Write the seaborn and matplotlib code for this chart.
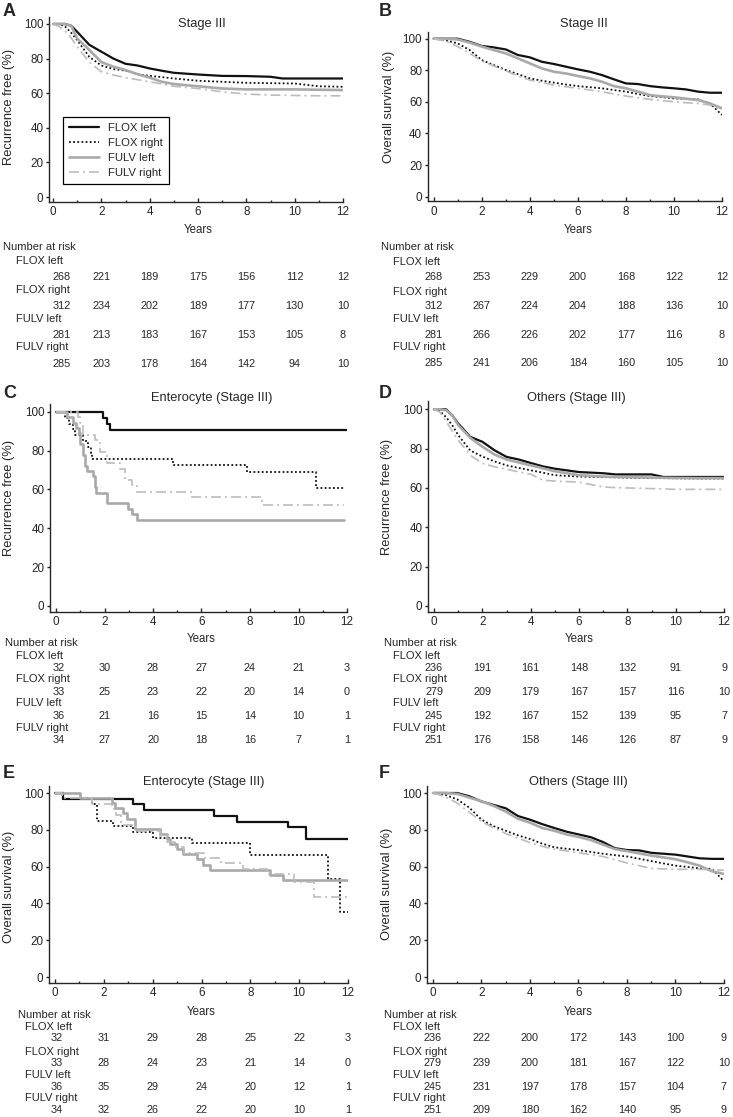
"""
plot.py

Kaplan-Meier curves (recurrence free / overall survival) for FLOX and FULV,
left vs right sided tumours, with number-at-risk tables under each panel.
"""
import pandas as pd
import matplotlib
matplotlib.use("Agg")
from matplotlib import pyplot as plt
from matplotlib import transforms
from matplotlib.lines import Line2D
import seaborn as sns

W, H = 733, 1117

# ---- data -----------------------------------------------------------------
GROUPS = ["FLOX left", "FLOX right", "FULV left", "FULV right"]
RISK_YEARS = [0, 2, 4, 6, 8, 10, 12]

# A: Stage III, recurrence free
A_T = [0, 0.25, 0.5, 0.75, 1, 1.5, 2, 2.5, 3, 3.5, 4, 4.5, 5, 6, 7, 8, 9, 9.5, 10, 11, 12]
A_FLOX_LEFT = [100, 100, 100, 99, 95.5, 88, 84, 80, 77, 76, 74.3, 73, 71.8, 70.8, 70, 69.9, 69.5, 68.5, 68.5, 68.5, 68.5]
A_FLOX_RIGHT = [100, 100, 98.5, 95, 90.7, 81, 76, 74, 73, 71, 70, 69.3, 68.5, 67.2, 66.6, 66, 65.8, 65.7, 65.6, 64, 63.7]
A_FULV_LEFT = [100, 100, 100, 99, 91.7, 85, 78, 75.3, 73.4, 71, 69, 66.6, 65.3, 64, 62.7, 62.2, 62.2, 62.2, 62.2, 62, 61.8]
A_FULV_RIGHT = [100, 98.5, 96, 92, 86.9, 78, 72.4, 70.5, 69, 67.8, 66.6, 65.3, 64, 62.7, 60.8, 59.5, 58.9, 58.8, 58.7, 58.5, 58.5]
A_RISK_FLOX_LEFT = [268, 221, 189, 175, 156, 112, 12]
A_RISK_FLOX_RIGHT = [312, 234, 202, 189, 177, 130, 10]
A_RISK_FULV_LEFT = [281, 213, 183, 167, 153, 105, 8]
A_RISK_FULV_RIGHT = [285, 203, 178, 164, 142, 94, 10]

# B: Stage III, overall survival
B_T = [0, 0.5, 1, 1.5, 2, 2.5, 3, 3.5, 4, 4.5, 5, 5.5, 6, 6.5, 7, 7.5, 8, 8.5, 9, 9.5, 10, 10.5, 11, 11.5, 12]
B_FLOX_LEFT = [100, 100, 100, 98, 95.4, 94.5, 93.2, 89.7, 88.2, 85.4, 84, 82.3, 80.6, 79.1, 77, 74.3, 71.7, 71.3, 70, 69.2, 68.6, 67.9, 66.5, 65.8, 65.8]
B_FLOX_RIGHT = [100, 99, 97, 92.8, 86.5, 83.3, 80.2, 77.6, 74.9, 73.4, 72.2, 71, 70, 69.3, 68.6, 67.5, 66.5, 65, 63.7, 63, 62.2, 61.9, 61.6, 59, 51.7]
B_FULV_LEFT = [100, 100, 99.5, 97.5, 95, 92.8, 90.7, 87.6, 84.4, 81.2, 79.1, 78, 76.4, 74.9, 72.8, 70, 68.6, 66.5, 64.3, 63.5, 62.9, 62, 61.2, 59, 55.9]
B_FULV_RIGHT = [100, 98.5, 95, 90.7, 85.9, 82.7, 79.7, 76.4, 73.8, 72.2, 70.7, 69.6, 68.6, 67.5, 66.5, 65, 63.7, 62.6, 61.6, 60.8, 60.1, 59.5, 59, 58, 55]
B_RISK_FLOX_LEFT = [268, 253, 229, 200, 168, 122, 12]
B_RISK_FLOX_RIGHT = [312, 267, 224, 204, 188, 136, 10]
B_RISK_FULV_LEFT = [281, 266, 226, 202, 177, 116, 8]
B_RISK_FULV_RIGHT = [285, 241, 206, 184, 160, 105, 10]

# C: Enterocyte (Stage III), recurrence free (step curves)
C_FLOX_LEFT_T = [0, 1.93, 2.12, 2.23, 12]
C_FLOX_LEFT_S = [100, 96.9, 93.8, 90.6, 90.6]
C_FLOX_RIGHT_T = [0, 0.37, 0.55, 0.7, 0.78, 1.1, 1.3, 1.45, 1.5, 4.84, 7.87, 10.73, 11.86]
C_FLOX_RIGHT_S = [100, 97.0, 93.9, 90.9, 87.9, 84.8, 81.8, 78.8, 75.8, 72.5, 69.2, 60.5, 60.5]
C_FULV_LEFT_T = [0, 0.44, 0.7, 0.83, 0.95, 1.0, 1.1, 1.2, 1.29, 1.51, 1.6, 1.65, 2.12, 2.98, 3.12, 3.33, 11.86]
C_FULV_LEFT_S = [100, 97.2, 94.4, 91.7, 88.9, 83.3, 77.8, 72.2, 69.4, 66.7, 61.1, 58.3, 52.8, 50.0, 47.2, 44.4, 44.4]
C_FULV_RIGHT_T = [0, 0.92, 1.0, 1.13, 1.61, 1.82, 2.09, 2.64, 2.85, 3.12, 3.33, 5.6, 8.49, 11.86]
C_FULV_RIGHT_S = [100, 97.1, 94.1, 88.2, 85.3, 79.4, 73.5, 70.6, 64.7, 61.8, 58.8, 55.9, 52.1, 52.1]
C_RISK_FLOX_LEFT = [32, 30, 28, 27, 24, 21, 3]
C_RISK_FLOX_RIGHT = [33, 25, 23, 22, 20, 14, 0]
C_RISK_FULV_LEFT = [36, 21, 16, 15, 14, 10, 1]
C_RISK_FULV_RIGHT = [34, 27, 20, 18, 16, 7, 1]

# D: Others (Stage III), recurrence free
D_T = [0, 0.25, 0.5, 0.75, 1, 1.5, 2, 2.5, 3, 3.5, 4, 4.5, 5, 6, 7, 7.5, 8, 9, 9.5, 10, 11, 12]
D_FLOX_LEFT = [100, 100, 100, 97, 92.8, 86, 83.5, 79.2, 75.8, 74.5, 72.7, 71, 69.8, 68.1, 67.5, 66.9, 66.9, 66.9, 65.6, 65.6, 65.6, 65.6]
D_FLOX_RIGHT = [100, 99, 96, 92, 86.9, 79, 76, 73.5, 71.5, 70.2, 69, 67.8, 66.5, 65.8, 65.5, 65.4, 65.2, 65, 65, 64.9, 64.8, 64.8]
D_FULV_LEFT = [100, 100, 99.5, 97, 92, 85.5, 81, 77, 74.5, 73, 71.5, 70, 68.5, 66.5, 65.8, 65.6, 65.5, 65.3, 65.2, 65.1, 65, 65]
D_FULV_RIGHT = [100, 98.5, 94, 89, 84.3, 76.7, 72.5, 70.8, 69.5, 68.2, 67, 64, 63.5, 63, 60.5, 60.2, 60, 59.7, 59.5, 59.3, 59.3, 59.3]
D_RISK_FLOX_LEFT = [236, 191, 161, 148, 132, 91, 9]
D_RISK_FLOX_RIGHT = [279, 209, 179, 167, 157, 116, 10]
D_RISK_FULV_LEFT = [245, 192, 167, 152, 139, 95, 7]
D_RISK_FULV_RIGHT = [251, 176, 158, 146, 126, 87, 9]

# E: Enterocyte (Stage III), overall survival (step curves)
E_FLOX_LEFT_T = [0, 0.31, 3.2, 3.64, 6.5, 7.46, 9.56, 10.27, 12]
E_FLOX_LEFT_S = [100, 96.9, 93.8, 90.6, 87.5, 84.4, 81.3, 75.0, 75.0]
E_FLOX_RIGHT_T = [0, 0.34, 1.5, 1.7, 2.39, 3.2, 4.02, 5.63, 7.98, 11.19, 11.66, 12]
E_FLOX_RIGHT_S = [100, 97.0, 93.9, 84.8, 81.8, 78.8, 75.8, 72.7, 66.4, 53.1, 35.4, 35.4]
E_FULV_LEFT_T = [0, 1.02, 2.32, 2.46, 2.77, 2.93, 3.27, 4.3, 4.57, 4.7, 4.98, 5.25, 5.8, 6.07, 6.34, 8.8, 9.35, 12]
E_FULV_LEFT_S = [100, 97.2, 94.4, 91.7, 88.9, 86.1, 80.6, 77.8, 75.0, 72.2, 69.4, 66.7, 63.9, 61.1, 58.3, 55.6, 52.8, 52.8]
E_FULV_RIGHT_T = [0, 0.27, 1.5, 2.32, 2.5, 2.7, 3.3, 4.3, 4.6, 4.9, 5.3, 6.1, 6.8, 7.7, 8.7, 9.8, 10.6, 12]
E_FULV_RIGHT_S = [100, 97.1, 94.1, 91.2, 88.2, 82.4, 79.4, 76.5, 73.5, 70.6, 67.6, 64.7, 61.8, 58.8, 55.9, 51.9, 43.6, 43.6]
E_RISK_FLOX_LEFT = [32, 31, 29, 28, 25, 22, 3]
E_RISK_FLOX_RIGHT = [33, 28, 24, 23, 21, 14, 0]
E_RISK_FULV_LEFT = [36, 35, 29, 24, 20, 12, 1]
E_RISK_FULV_RIGHT = [34, 32, 26, 22, 20, 10, 1]

# F: Others (Stage III), overall survival
F_T = [0, 0.5, 1, 1.5, 2, 2.5, 3, 3.5, 4, 4.5, 5, 5.5, 6, 6.5, 7, 7.5, 8, 8.5, 9, 10, 10.5, 11, 11.5, 12]
F_FLOX_LEFT = [100, 100, 100, 98.2, 95.4, 93.5, 91.7, 87.5, 85.5, 83.1, 81, 79, 77.5, 76, 73.4, 70, 69, 68.8, 67.5, 66.5, 65.5, 64.5, 64.2, 64.2]
F_FLOX_RIGHT = [100, 99, 96.5, 92, 85.5, 82, 79.5, 77, 75, 72.5, 70.5, 69.7, 69, 68, 67, 66.2, 65.5, 64.3, 63, 60.5, 59.8, 59, 58.8, 52]
F_FULV_LEFT = [100, 100, 99.5, 97.5, 95.5, 93, 89.9, 86, 83.9, 81, 79.5, 77.5, 76.1, 74.5, 72, 69.5, 68.4, 67.2, 66, 64, 62.3, 60.5, 57.5, 56]
F_FULV_RIGHT = [100, 98, 94.5, 89.5, 84.5, 81, 78, 75.5, 73, 71, 69.5, 68.5, 67.5, 66.5, 65.5, 63.8, 62, 60.5, 59, 58.5, 58.5, 58.5, 58.3, 58]
F_RISK_FLOX_LEFT = [236, 222, 200, 172, 143, 100, 9]
F_RISK_FLOX_RIGHT = [279, 239, 200, 181, 167, 122, 10]
F_RISK_FULV_LEFT = [245, 231, 197, 178, 157, 104, 7]
F_RISK_FULV_RIGHT = [251, 209, 180, 162, 140, 95, 9]

# ---- styles ---------------------------------------------------------------
STYLES = {
    "FLOX left": dict(color="#111111", lw=1.6, linestyle="-"),
    "FLOX right": dict(color="#111111", lw=1.3, linestyle=(0, (1, 1.3))),
    "FULV left": dict(color="#a9a9a9", lw=1.9, linestyle="-"),
    "FULV right": dict(color="#bcbcbc", lw=1.2, linestyle=(0, (6, 2.4, 1.2, 2.4))),
}

sns.set_style("ticks")
plt.rcParams['font.family'] = ['Liberation Sans', 'DejaVu Sans']
plt.rcParams['axes.linewidth'] = 1.0

fig = plt.figure(figsize=(W / 100, H / 100), dpi=100)


def px(x, y):
    return x / W, 1 - y / H


def make_axes(x0, x12, y100, y0, xmin=-0.25, ymin=-3, ymax=104):
    # place an axes so that data 0/12 and 0/100 land on the given pixels
    sx = (x12 - x0) / 12
    sy = (y0 - y100) / 100
    left = x0 + xmin * sx
    top = y100 - (ymax - 100) * sy
    bottom = y0 - ymin * sy
    ax = fig.add_axes([left / W, 1 - bottom / H, (x12 - left) / W, (bottom - top) / H])
    ax.set_xlim(xmin, 12)
    ax.set_ylim(ymin, ymax)
    sns.despine(ax=ax)
    ax.set_xticks(range(0, 13, 2))
    ax.set_xticks(range(1, 12, 2), minor=True)
    ax.set_yticks(range(0, 101, 20))
    ax.tick_params(axis="x", which="major", direction="in", length=3, width=1, labelsize=8.4, pad=3)
    ax.tick_params(axis="x", which="minor", direction="in", length=1.5, width=1)
    ax.tick_params(axis="y", direction="out", length=2.5, width=1, labelsize=8.4, pad=1.5)
    return ax


def draw(ax, t, s, group, steps=False):
    df = pd.DataFrame({"Years": t, "pct": s})
    sns.lineplot(data=df, x="Years", y="pct", ax=ax, estimator=None, sort=False,
                 legend=False, drawstyle="steps-post" if steps else "default",
                 **STYLES[group])
    ax.set_xlabel("")
    ax.set_ylabel("")


def decorate(ax, letter, letter_xy, title, title_xy, ylabel, ylabel_xy, years_y):
    fig.text(*px(*letter_xy), letter, fontsize=13, fontweight="bold", va="center", ha="left")
    fig.text(*px(*title_xy), title, fontsize=9.3, va="center", ha="center")
    fig.text(*px(*ylabel_xy), ylabel, fontsize=9.3, rotation=90, va="center", ha="center")
    blend = transforms.blended_transform_factory(ax.transData, fig.transFigure)
    ax.text(6, 1 - years_y / H, "Years", transform=blend, fontsize=8.3, ha="center", va="center")


def risk_table(ax, risks, nar_xy, label_x, label_ys, num_ys, first_x=0.0):
    blend = transforms.blended_transform_factory(ax.transData, fig.transFigure)
    fig.text(*px(*nar_xy), "Number at risk", fontsize=8, va="center", ha="left")
    for name, vals, ly, ny in zip(GROUPS, risks, label_ys, num_ys):
        fig.text(*px(label_x, ly), name, fontsize=8, va="center", ha="left")
        for yr, v in zip(RISK_YEARS, vals):
            x = first_x if yr == 0 else yr
            ax.text(x, 1 - ny / H, str(v), transform=blend, fontsize=7.8, ha="center", va="center")


# ---- panel A --------------------------------------------------------------
axA = make_axes(53, 343, 24, 197, xmin=-0.17)
for g, s in zip(GROUPS, [A_FLOX_LEFT, A_FLOX_RIGHT, A_FULV_LEFT, A_FULV_RIGHT]):
    draw(axA, A_T, s, g)
decorate(axA, "A", (3, 12), "Stage III", (202, 24), "Recurrence free (%)", (9, 107), 230)
risk_table(axA, [A_RISK_FLOX_LEFT, A_RISK_FLOX_RIGHT, A_RISK_FULV_LEFT, A_RISK_FULV_RIGHT],
           (3, 247), 16, [261, 290, 319, 347], [277, 306, 335, 364], first_x=0.35)
handles = [Line2D([], [], **STYLES[g]) for g in GROUPS]
leg = axA.legend(handles, GROUPS, loc="upper left", bbox_to_anchor=px(63, 117),
                 bbox_transform=fig.transFigure, fontsize=8.2, frameon=True,
                 fancybox=False, framealpha=1, edgecolor="black", borderpad=0.55,
                 borderaxespad=0, handlelength=2.6, handletextpad=0.8, labelspacing=0.42)
leg.get_frame().set_linewidth(0.9)

# ---- panel B --------------------------------------------------------------
axB = make_axes(433.7, 722, 38.7, 196.7)
for g, s in zip(GROUPS, [B_FLOX_LEFT, B_FLOX_RIGHT, B_FULV_LEFT, B_FULV_RIGHT]):
    draw(axB, B_T, s, g)
decorate(axB, "B", (379, 12), "Stage III", (584, 24), "Overall survival (%)", (389, 107), 230)
risk_table(axB, [B_RISK_FLOX_LEFT, B_RISK_FLOX_RIGHT, B_RISK_FULV_LEFT, B_RISK_FULV_RIGHT],
           (381, 247), 393, [262, 292, 319, 347], [277, 306, 335, 363])

# ---- panel C --------------------------------------------------------------
axC = make_axes(56, 347, 411.7, 606)
for g, t, s in zip(GROUPS,
                   [C_FLOX_LEFT_T, C_FLOX_RIGHT_T, C_FULV_LEFT_T, C_FULV_RIGHT_T],
                   [C_FLOX_LEFT_S, C_FLOX_RIGHT_S, C_FULV_LEFT_S, C_FULV_RIGHT_S]):
    draw(axC, t, s, g, steps=True)
decorate(axC, "C", (3, 393), "Enterocyte (Stage III)", (212, 398), "Recurrence free (%)", (9, 498), 639)
risk_table(axC, [C_RISK_FLOX_LEFT, C_RISK_FLOX_RIGHT, C_RISK_FULV_LEFT, C_RISK_FULV_RIGHT],
           (5, 643), 16, [656, 679, 703, 728], [668, 692, 716, 740], first_x=0.1)

# ---- panel D --------------------------------------------------------------
axD = make_axes(434, 724, 409.3, 606)
for g, s in zip(GROUPS, [D_FLOX_LEFT, D_FLOX_RIGHT, D_FULV_LEFT, D_FULV_RIGHT]):
    draw(axD, D_T, s, g)
decorate(axD, "D", (379, 393), "Others (Stage III)", (576, 398), "Recurrence free (%)", (387, 497), 639)
risk_table(axD, [D_RISK_FLOX_LEFT, D_RISK_FLOX_RIGHT, D_RISK_FULV_LEFT, D_RISK_FULV_RIGHT],
           (384, 643), 393, [656, 679, 703, 728], [668, 692, 716, 740])

# ---- panel E --------------------------------------------------------------
axE = make_axes(55, 348, 793, 977)
for g, t, s in zip(GROUPS,
                   [E_FLOX_LEFT_T, E_FLOX_RIGHT_T, E_FULV_LEFT_T, E_FULV_RIGHT_T],
                   [E_FLOX_LEFT_S, E_FLOX_RIGHT_S, E_FULV_LEFT_S, E_FULV_RIGHT_S]):
    draw(axE, t, s, g, steps=True)
decorate(axE, "E", (3, 773), "Enterocyte (Stage III)", (204, 782), "Overall survival (%)", (9, 887), 1012)
risk_table(axE, [E_RISK_FLOX_LEFT, E_RISK_FLOX_RIGHT, E_RISK_FULV_LEFT, E_RISK_FULV_RIGHT],
           (18, 1015), 25, [1027, 1052, 1075, 1098], [1038, 1063, 1087, 1110], first_x=0.06)

# ---- panel F --------------------------------------------------------------
axF = make_axes(433, 724, 793, 977)
for g, s in zip(GROUPS, [F_FLOX_LEFT, F_FLOX_RIGHT, F_FULV_LEFT, F_FULV_RIGHT]):
    draw(axF, F_T, s, g)
decorate(axF, "F", (379, 773), "Others (Stage III)", (578, 782), "Overall survival (%)", (387, 884), 1012)
risk_table(axF, [F_RISK_FLOX_LEFT, F_RISK_FLOX_RIGHT, F_RISK_FULV_LEFT, F_RISK_FULV_RIGHT],
           (384, 1015), 393, [1027, 1052, 1075, 1098], [1038, 1063, 1087, 1110])

fig.savefig("out.png", dpi=100)
